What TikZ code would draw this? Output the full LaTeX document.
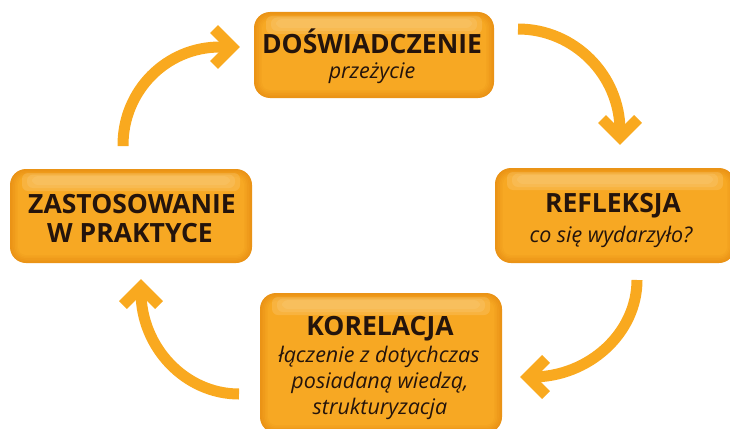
\documentclass[tikz,border=0pt]{standalone}
\usepackage{fontspec}
\setmainfont{Open Sans}
\begin{document}
\begin{tikzpicture}[x=1pt,y=-1pt,
  box/.style={rectangle, rounded corners=16pt, inner sep=0pt, fill=boxedge,
    path picture={
      \foreach \d/\r/\p in {1.6/14.4/20,3.2/12.8/40,4.8/11.2/60,6.4/9.6/80,8/8/100}{
        \fill[boxmid!\p!boxedge, rounded corners=\r pt]
          ([xshift=\d pt,yshift=-\d pt]path picture bounding box.north west)
          rectangle ([xshift=-\d pt,yshift=\d pt]path picture bounding box.south east);
      }
      \foreach \a/\b/\c in {12/4/22,17/5.5/19,22/7/16}{
        \fill[boxhi, opacity=0.33, rounded corners=6pt]
          ([xshift=\a pt,yshift=-\b pt]path picture bounding box.north west)
          rectangle ([xshift=-\a pt,yshift=-\c pt]path picture bounding box.north east);
      }
    }},
  ttl/.style={anchor=base, inner sep=0pt, text=txt, font=\fontsize{26.5}{30}\selectfont\bfseries},
  sub/.style={anchor=base, inner sep=0pt, text=txt, font=\fontsize{21.5}{24}\selectfont\itshape},
  arr/.style={draw=arrc, line width=11pt},
  tip/.style={draw=arrc, line width=11pt, miter limit=10, line join=miter}
]
\definecolor{boxedge}{HTML}{EA9316}
\definecolor{boxmid}{HTML}{F7A823}
\definecolor{boxhi}{HTML}{FBCB78}
\definecolor{arrc}{HTML}{F9A91F}
\definecolor{txt}{HTML}{24140C}
\useasboundingbox (0,0) rectangle (730,428);
\clip (0,0) rectangle (730,428);

% boxes
\node[box, minimum width=240pt, minimum height=86pt] (b1) at (374,55) {};
\node[box, minimum width=240pt, minimum height=95pt] (b2) at (615,215.5) {};
\node[box, minimum width=242pt, minimum height=140pt] (b3) at (381,363) {};
\node[box, minimum width=242pt, minimum height=94pt] (b4) at (131,216) {};

% texts
\node[ttl] (t1) at (372,53) {DOŚWIADCZENIE};
\node[sub] (s1) at (372,78) {przeżycie};
\node[ttl] (t2) at (613,212) {REFLEKSJA};
\node[sub] (s2) at (611,242) {co się wydarzyło?};
\node[ttl] (t3) at (380,335) {KORELACJA};
\node[sub] (s3a) at (379,362) {łączenie z dotychczas};
\node[sub] (s3b) at (380,388) {posiadaną wiedzą,};
\node[sub] (s3c) at (380,414) {strukturyzacja};
\node[ttl] (t4a) at (132,213) {ZASTOSOWANIE};
\node[ttl] (t4b) at (130,242) {W PRAKTYCE};

% arrow coordinates
\coordinate (a1s) at (518,29);
\coordinate (a1e) at (620,137);
\coordinate (a2s) at (123,146);
\coordinate (a2e) at (232,47);
\coordinate (a3s) at (637,280);
\coordinate (a3e) at (528,377);
\coordinate (a4s) at (239,394);
\coordinate (a4e) at (141,287);

% arrow 1: top -> right
\draw[arr] (a1s) .. controls (574,29) and (620,75) .. (620,131) -- (a1e);
\draw[tip] ([xshift=-18pt,yshift=18pt]a1e) -- (a1e) -- ([xshift=18pt,yshift=18pt]a1e);
% arrow 2: left -> top
\draw[arr] (a2s) -- (123,145) .. controls (123,91) and (166,47) .. (220,47) -- (a2e);
\draw[tip] ([xshift=-18pt,yshift=-18pt]a2e) -- (a2e) -- ([xshift=-18pt,yshift=18pt]a2e);
% arrow 3: right -> bottom
\draw[arr] (a3s) .. controls (637,333) and (589,377) .. (532,377) -- (a3e);
\draw[tip] ([xshift=18pt,yshift=-18pt]a3e) -- (a3e) -- ([xshift=18pt,yshift=18pt]a3e);
% arrow 4: bottom -> left
\draw[arr] (a4s) .. controls (185,394) and (141,347) .. (141,292) -- (a4e);
\draw[tip] ([xshift=-18pt,yshift=-18pt]a4e) -- (a4e) -- ([xshift=18pt,yshift=-18pt]a4e);
\end{tikzpicture}
\end{document}
